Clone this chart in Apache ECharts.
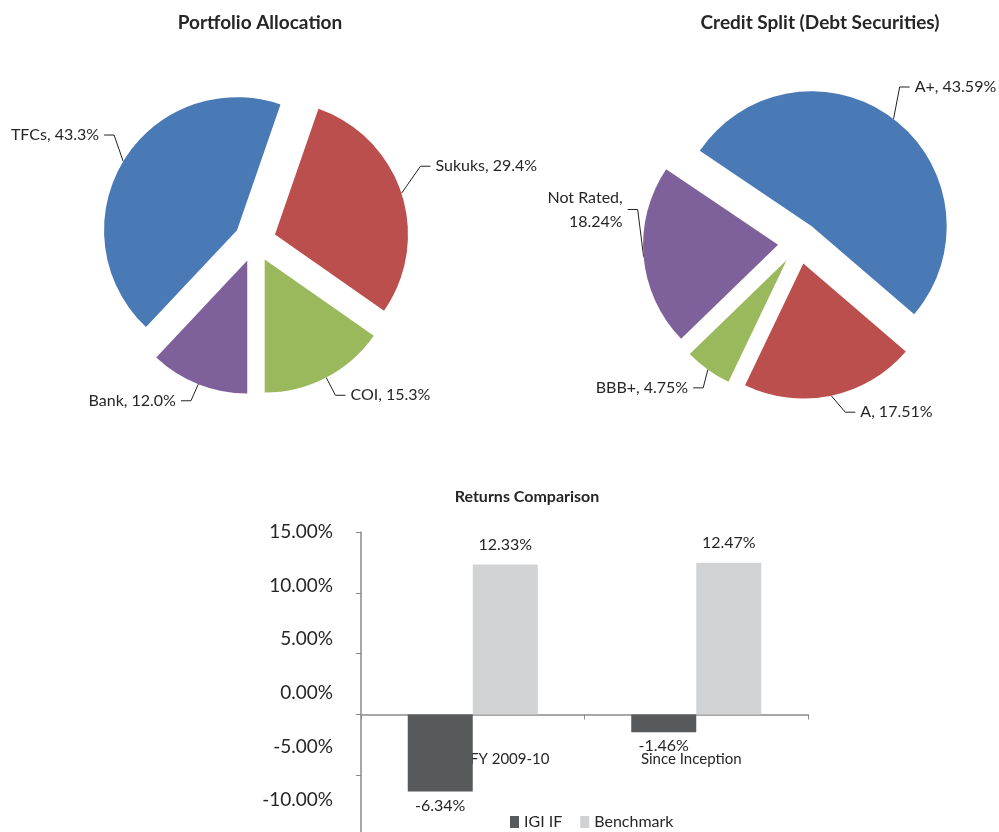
<!DOCTYPE html>
<html>
<head>
<meta charset="utf-8">
<script src="https://cdn.jsdelivr.net/npm/echarts@6/dist/echarts.min.js"></script>
<style>
html,body{margin:0;padding:0;background:#fff;}
#chart{width:999px;height:832px;}
</style>
</head>
<body>
<div id="chart"></div>
<script>
// ---- data ----
const allocCategories = ['TFCs', 'Sukuks', 'COI', 'Bank'];
const allocValues = [43.3, 29.4, 15.3, 12.0];
const creditCategories = ['A+', 'A', 'BBB+', 'Not Rated'];
const creditValues = [43.59, 17.51, 4.75, 18.24];
const returnCategories = ['FY 2009-10', 'Since Inception'];
const igiValues = [-6.34, -1.46];
const benchmarkValues = [12.33, 12.47];
const seriesNames = ['IGI IF', 'Benchmark'];

// ---- styles ----
const FONT = 'Lato';
const pieColors = ['#4a7ab5', '#bb4f4d', '#9ab85c', '#7e619b'];
const TXT = '#262626';
// label nudges [dx, dy] (styling only), keyed by category name
const labelNudge = {
  'TFCs': [8, -16], 'Sukuks': [0, -21], 'Bank': [0, -2],
  'A+': [-6, -16], 'A': [10, -3], 'BBB+': [7, 2], 'Not Rated': [14, -49]
};
const pieCats = [allocCategories, creditCategories];

const chart = echarts.init(document.getElementById('chart'));

function pieData(cats, vals, digits) {
  return cats.map((c, i) => ({
    name: c, value: vals[i], selected: true,
    itemStyle: { color: pieColors[i] },
    label: { formatter: p => c === 'Not Rated'
      ? p.name + ',\n' + p.value.toFixed(digits) + '%'
      : p.name + ', ' + p.value.toFixed(digits) + '%' }
  }));
}

function nudge(p) {
  const cats = pieCats[p.seriesIndex];
  const n = (cats && labelNudge[cats[p.dataIndex]]) || [0, 0];
  const out = { dx: n[0], dy: n[1] };
  const pts = p.labelLinePoints;
  if (pts && pts.length === 3 && (n[0] || n[1])) {
    out.labelLinePoints = [
      [pts[0][0], pts[0][1]],
      [pts[1][0] + n[0], pts[1][1] + n[1]],
      [pts[2][0] + n[0], pts[2][1] + n[1]]
    ];
  }
  return out;
}

const pieCommon = {
  type: 'pie',
  radius: 133,
  clockwise: true,
  selectedMode: 'multiple',
  selectedOffset: 21,
  avoidLabelOverlap: false,
  animation: false,
  emphasis: { disabled: true },
  label: { show: true, position: 'outside', color: TXT, fontFamily: FONT, fontSize: 16, lineHeight: 24, align: 'center' },
  labelLine: { show: true, length: 20, length2: 10, lineStyle: { color: '#222', width: 1 } },
  labelLayout: nudge,
  itemStyle: { borderWidth: 0 }
};

const option = {
  backgroundColor: '#fff',
  animation: false,
  title: [
    { text: 'Portfolio Allocation', left: 255, top: 8, textAlign: 'center',
      textStyle: { fontFamily: FONT, fontSize: 19, fontWeight: 'bold', color: TXT } },
    { text: 'Credit Split (Debt Securities)', left: 815, top: 8, textAlign: 'center',
      textStyle: { fontFamily: FONT, fontSize: 19, fontWeight: 'bold', color: TXT } },
    { text: 'Returns Comparison', left: 522, top: 484, textAlign: 'center',
      textStyle: { fontFamily: FONT, fontSize: 16, fontWeight: 'bold', color: TXT } }
  ],
  legend: {
    data: seriesNames, left: 508, top: 812, padding: 2, icon: 'rect', itemWidth: 9, itemHeight: 12, itemGap: 18,
    textStyle: { fontFamily: FONT, fontSize: 16, color: TXT }
  },
  grid: [
    { left: 361, top: 532, right: 191, bottom: -4, containLabel: false, outerBoundsMode: 'none' },
    { left: 361, top: 532, right: 191, bottom: 32, containLabel: false, outerBoundsMode: 'none' }
  ],
  xAxis: [
    { type: 'category', gridIndex: 0, data: returnCategories,
      axisLine: { onZero: true, lineStyle: { color: '#8a8a8a', width: 1.5 } },
      axisTick: { show: true, length: 5, lineStyle: { color: '#8a8a8a' } },
      axisLabel: { margin: -84, fontFamily: FONT, fontSize: 15, color: TXT,
        formatter: (v, i) => i === 0 ? '{a|' + v + '}' : '{b|' + v + '}',
        rich: { a: { padding: [0, 0, 0, 74], fontFamily: FONT, fontSize: 15, color: TXT },
                b: { padding: [0, 10, 0, 0], fontFamily: FONT, fontSize: 15, color: TXT } } } },
    { type: 'value', gridIndex: 1, show: false, min: 0, max: 1 }
  ],
  yAxis: [
    { type: 'value', gridIndex: 0, min: -10, max: 15, interval: 5,
      axisLine: { show: true, lineStyle: { color: '#8a8a8a', width: 1.5 } },
      axisTick: { show: true, length: 5, lineStyle: { color: '#8a8a8a' } },
      axisLabel: { show: false }, splitLine: { show: false } },
    { type: 'value', gridIndex: 1, min: -10, max: 15, interval: 5,
      axisLine: { show: false }, axisTick: { show: false }, splitLine: { show: false },
      axisLabel: { show: true, margin: 28, fontFamily: FONT, fontSize: 19, color: TXT,
        formatter: v => v.toFixed(2) + '%' } }
  ],
  series: [
    Object.assign({}, pieCommon, {
      name: 'Portfolio Allocation', center: [255, 241], startAngle: -133.2,
      data: pieData(allocCategories, allocValues, 1)
    }),
    Object.assign({}, pieCommon, {
      name: 'Credit Split', center: [799, 243], startAngle: 146, radius: 135,
      data: pieData(creditCategories, creditValues, 2)
    }),
    { type: 'bar', name: seriesNames[0], xAxisIndex: 0, yAxisIndex: 0, data: igiValues,
      barWidth: 65, barGap: '0%', itemStyle: { color: '#58595b' },
      label: { show: true, position: 'bottom', distance: 6, fontFamily: FONT, fontSize: 16, color: TXT,
        formatter: p => p.value.toFixed(2) + '%' } },
    { type: 'bar', name: seriesNames[1], xAxisIndex: 0, yAxisIndex: 0, data: benchmarkValues,
      barWidth: 65, barGap: '0%', itemStyle: { color: '#d1d2d4' },
      label: { show: true, position: 'top', distance: 12, fontFamily: FONT, fontSize: 16, color: TXT,
        formatter: p => p.value.toFixed(2) + '%' } }
  ]
};
chart.setOption(option);
</script>
</body>
</html>
